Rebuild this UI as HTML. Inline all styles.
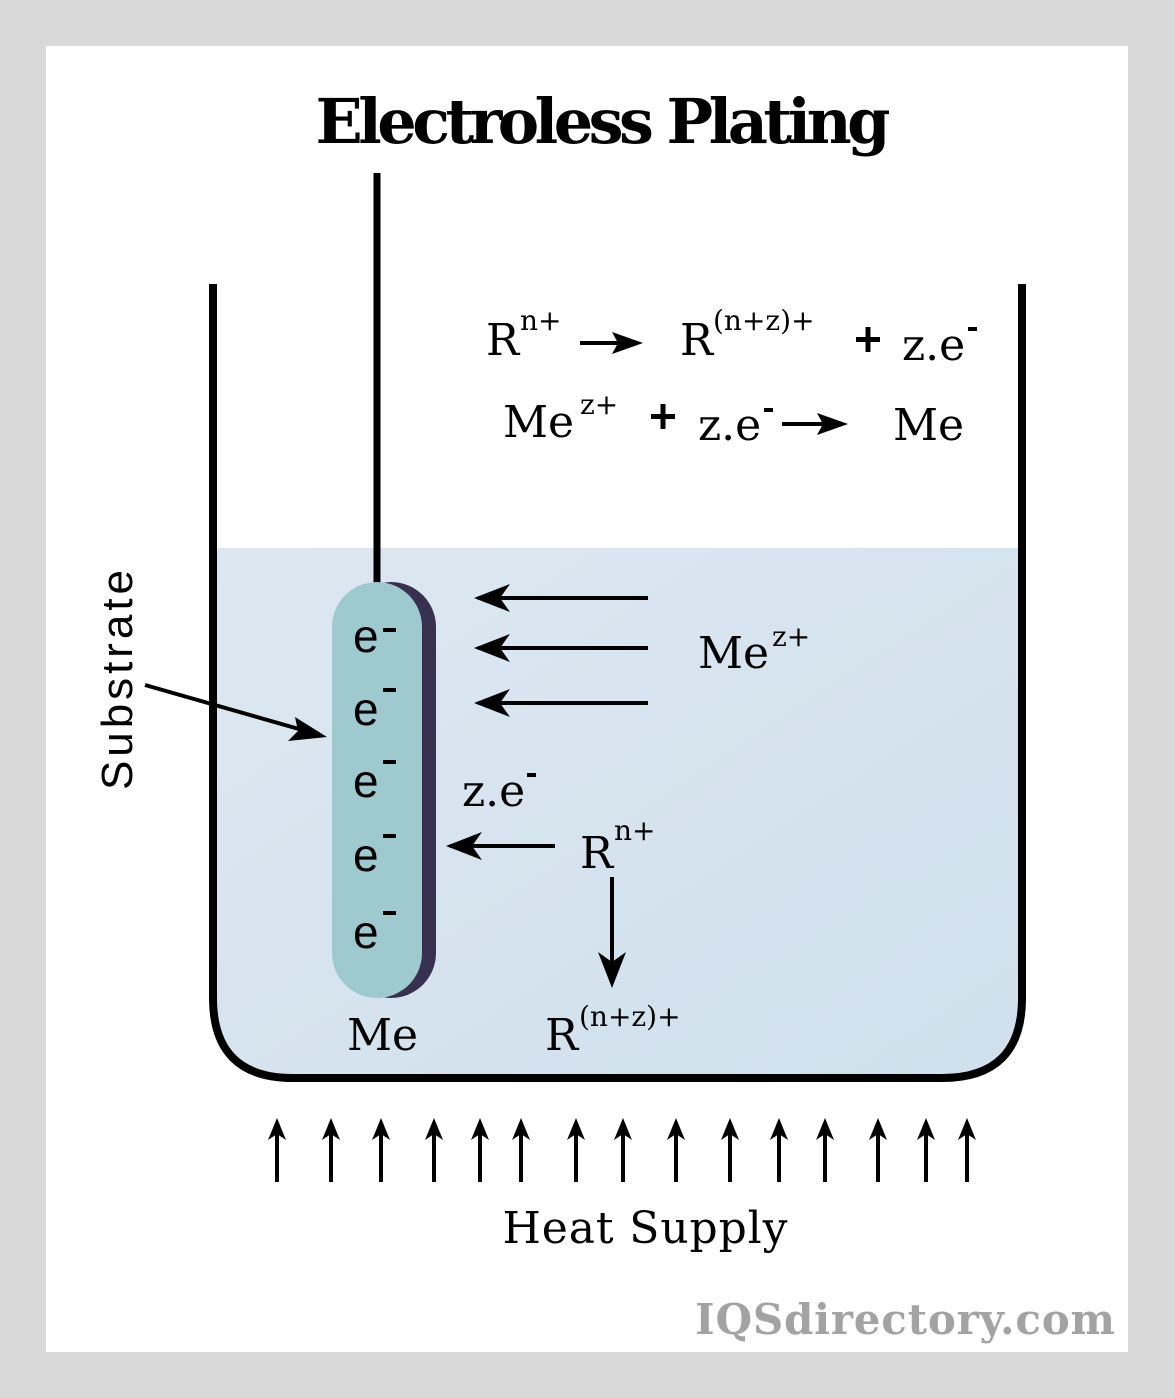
<!DOCTYPE html>
<html><head><style>html,body{margin:0;padding:0;background:#d9d9d9}svg{display:block}</style></head>
<body>
<svg width="1175" height="1398" viewBox="0 0 1175 1398" xmlns="http://www.w3.org/2000/svg" font-family="'DejaVu Serif','Liberation Serif',serif">
<defs>
<linearGradient id="liq" x1="0" y1="0" x2="1" y2="1"><stop offset="0" stop-color="#dde7f1"/><stop offset="1" stop-color="#cfe0ec"/></linearGradient>
</defs>
<rect x="0" y="0" width="1175" height="1398" fill="#d9d9d9"/>
<rect x="46" y="46" width="1082" height="1306" fill="#fff"/>
<text x="603" y="143" font-size="62" font-weight="bold" text-anchor="middle" textLength="575">Electroless Plating</text>
<path d="M213,548 H1022 V998 Q1022,1078 942,1078 H293 Q213,1078 213,998 Z" fill="url(#liq)"/>
<path d="M213,284 V998 Q213,1078 293,1078 H942 Q1022,1078 1022,998 V284" fill="none" stroke="#000" stroke-width="8"/>
<line x1="377" y1="173" x2="377" y2="584" stroke="#000" stroke-width="7"/>
<rect x="346" y="582" width="90" height="416" rx="45" fill="#38304f"/>
<rect x="332" y="582" width="90" height="416" rx="45" fill="#9ec9cf"/>
<g font-size="46" font-family="'Liberation Sans',sans-serif">
<text x="353" y="652">e</text>
<text x="353" y="725">e</text>
<text x="353" y="797">e</text>
<text x="353" y="871">e</text>
<text x="353" y="948">e</text>
</g>
<g fill="#000">
<rect x="383" y="628" width="13" height="4"/>
<rect x="383" y="688" width="13" height="4"/>
<rect x="383" y="760" width="13" height="4"/>
<rect x="383" y="834" width="13" height="4"/>
<rect x="383" y="911" width="13" height="4"/>
<rect x="527" y="773" width="9" height="4"/>
<rect x="968" y="327" width="9" height="4"/>
<rect x="764" y="408" width="9" height="4"/>
</g>
<g stroke="#000" stroke-width="4" fill="none">
<path d="M648,598 H478"/><path d="M648,648 H478"/><path d="M648,703 H478"/>
<path d="M555,846 H450"/><path d="M612,877 V982"/>
<path d="M145,685 L320,735"/>
</g>
<g fill="#000">
<path d="M474,598 L510,584 L500,598 L510,612Z"/>
<path d="M474,648 L510,634 L500,648 L510,662Z"/>
<path d="M474,703 L510,689 L500,703 L510,717Z"/>
<path d="M446,846 L482,832 L472,846 L482,860Z"/>
<path d="M612,988 L598,952 L612,962 L626,952Z"/>
<path d="M327,737 L288,741 L298,731 L295,717Z"/>
</g>
<g font-size="44">
<text x="698" y="668">Me</text><text x="772" y="646" font-size="28">z+</text>
<text x="462" y="806">z.e</text>
<text x="580" y="868">R</text><text x="614" y="840" font-size="28">n+</text>
<text x="545" y="1050">R</text><text x="579" y="1026" font-size="28">(n+z)+</text>
<text x="347" y="1050">Me</text>
<text x="486" y="355">R</text><text x="520" y="330" font-size="28">n+</text>
<text x="680" y="355">R</text><text x="713" y="330" font-size="28">(n+z)+</text>
<text x="902" y="360">z.e</text>
<text x="503" y="437">Me</text><text x="580" y="414" font-size="28">z+</text>
<text x="698" y="440">z.e</text>
<text x="893" y="440">Me</text>
</g>
<g fill="#000">
<rect x="856" y="337" width="24" height="5"/><rect x="865.5" y="327" width="5" height="25"/>
<rect x="651" y="414" width="24" height="5"/><rect x="660.5" y="404" width="5" height="25"/>
</g>
<g stroke="#000" stroke-width="4"><path d="M580,343 H625"/><path d="M782,424 H830"/></g>
<g fill="#000"><path d="M643,343 L612,332 L618,343 L612,354Z"/><path d="M848,424 L817,413 L823,424 L817,435Z"/></g>
<text transform="translate(132,680) rotate(-90)" font-size="44" text-anchor="middle" font-family="'Liberation Sans',sans-serif" textLength="220">Substrate</text>
<g stroke="#000" stroke-width="4">
<path d="M277,1182V1130M331,1182V1130M381,1182V1130M434,1182V1130M480,1182V1130M521,1182V1130M576,1182V1130M623,1182V1130M676,1182V1130M730,1182V1130M779,1182V1130M825,1182V1130M878,1182V1130M926,1182V1130M967,1182V1130"/>
</g>
<g fill="#000">
<path id="ha" d="M277,1118 L268,1140 L277,1134 L286,1140Z"/>
<use href="#ha" x="54"/><use href="#ha" x="104"/><use href="#ha" x="157"/><use href="#ha" x="203"/><use href="#ha" x="244"/><use href="#ha" x="299"/><use href="#ha" x="346"/><use href="#ha" x="399"/><use href="#ha" x="453"/><use href="#ha" x="502"/><use href="#ha" x="548"/><use href="#ha" x="601"/><use href="#ha" x="649"/><use href="#ha" x="690"/>
</g>
<text x="645" y="1243" font-size="44" text-anchor="middle" textLength="285">Heat Supply</text>
<text x="905" y="1334" font-size="42" font-weight="bold" fill="#a3a3a3" text-anchor="middle" textLength="420">IQSdirectory.com</text>
</svg>
</body></html>
